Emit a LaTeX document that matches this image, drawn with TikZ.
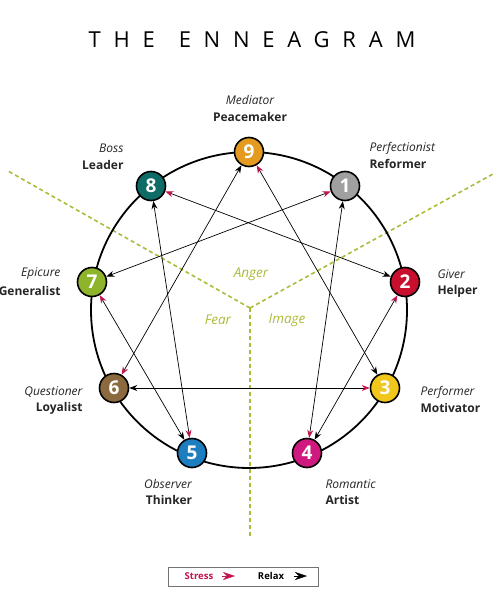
\documentclass[tikz,border=0pt]{standalone}
\usepackage{fontspec}
\setmainfont{Open Sans}
\usetikzlibrary{arrows.meta}
\definecolor{triadcol}{HTML}{AEBB3A}
\definecolor{stresscol}{HTML}{C2164B}
\definecolor{col9}{HTML}{E39A1E}
\definecolor{col1}{HTML}{A0A0A0}
\definecolor{col2}{HTML}{C8102E}
\definecolor{col3}{HTML}{F2C71C}
\definecolor{col4}{HTML}{D0197F}
\definecolor{col5}{HTML}{1C7DBF}
\definecolor{col6}{HTML}{8C6A3F}
\definecolor{col7}{HTML}{8DB42B}
\definecolor{col8}{HTML}{0E6B66}
\tikzset{
  num/.style={circle,draw=black,line width=1.6pt,minimum size=29pt,inner sep=0pt,text=white,font=\bfseries\fontsize{19}{19}\selectfont},
  link/.style={line width=0.7pt,{Stealth[length=8pt,width=6pt,black]}-{Stealth[length=8pt,width=6pt,stresscol]}},
  role/.style={font=\itshape\fontsize{12}{13}\selectfont,text=black!85},
  kind/.style={font=\bfseries\fontsize{12}{13}\selectfont,text=black!85},
  triad/.style={triadcol,line width=1.6pt,dash pattern=on 4pt off 3pt},
  triadtext/.style={font=\itshape\fontsize{13.5}{14}\selectfont,text=triadcol}
}
\begin{document}
\begin{tikzpicture}[x=1pt,y=-1pt]
\useasboundingbox[fill=white] (0,0) rectangle (501,604);
\node (title) at (252,40) {\addfontfeatures{LetterSpace=58}\fontsize{22}{22}\selectfont THE\hspace{24pt}ENNEAGRAM};
\coordinate (hub) at (250,308);
\coordinate (lend) at (8,171);
\coordinate (rend) at (493,174);
\coordinate (dend) at (250,536);
\draw[triad] (hub) -- (lend);
\draw[triad] (hub) -- (rend);
\draw[triad] (hub) -- (dend);
\node[triadtext] (anger) at (251,274) {Anger};
\node[triadtext] (fear) at (218,320) {Fear};
\node[triadtext] (image) at (287,320) {Image};
\draw[line width=1.8pt] (249,310) circle (158);
\node[num,fill=col9] (n9) at (249,152) {9};
\node[num,fill=col1] (n1) at (345,186) {1};
\node[num,fill=col2] (n2) at (405,282) {2};
\node[num,fill=col3] (n3) at (385,388) {3};
\node[num,fill=col4] (n4) at (307,453) {4};
\node[num,fill=col5] (n5) at (192,453) {5};
\node[num,fill=col6] (n6) at (114,388) {6};
\node[num,fill=col7] (n7) at (92,282) {7};
\node[num,fill=col8] (n8) at (151,186) {8};
\draw[link] (n1) -- (n4);
\draw[link] (n4) -- (n2);
\draw[link] (n2) -- (n8);
\draw[link] (n8) -- (n5);
\draw[link] (n5) -- (n7);
\draw[link] (n7) -- (n1);
\draw[link] (n9) -- (n6);
\draw[link] (n6) -- (n3);
\draw[link] (n3) -- (n9);
\node[role] (r9) at (250,100) {Mediator};
\node[kind] (k9) at (250,117) {Peacemaker};
\node[role,anchor=east] (r8) at (127,148) {Boss};
\node[kind,anchor=east] (k8) at (127,165) {Leader};
\node[role,anchor=west] (r1) at (366,148) {Perfectionist};
\node[kind,anchor=west] (k1) at (366,164) {Reformer};
\node[role,anchor=west] (r2) at (434,274) {Giver};
\node[kind,anchor=west] (k2) at (434,291) {Helper};
\node[role,anchor=east] (r7) at (64,274) {Epicure};
\node[kind,anchor=east] (k7) at (64,291) {Generalist};
\node[role,anchor=east] (r6) at (86,392) {Questioner};
\node[kind,anchor=east] (k6) at (86,408) {Loyalist};
\node[role,anchor=west] (r3) at (417,392) {Performer};
\node[kind,anchor=west] (k3) at (417,408) {Motivator};
\node[role] (r5) at (168,484) {Observer};
\node[kind] (k5) at (169,500) {Thinker};
\node[role,anchor=west] (r4) at (322,484) {Romantic};
\node[kind,anchor=west] (k4) at (322,500) {Artist};
\draw[black!55,line width=0.9pt] (168,567) rectangle (318,586);
\node[font=\bfseries\fontsize{9.5}{10}\selectfont,text=stresscol] (stress) at (199,576) {Stress};
\node[font=\bfseries\fontsize{9.5}{10}\selectfont] (relax) at (271,576) {Relax};
\coordinate (s1) at (222,576);
\coordinate (s2) at (235,576);
\coordinate (x1) at (294,576);
\coordinate (x2) at (307,576);
\draw[stresscol,-{Stealth[length=12pt,width=8pt]}] (s1) -- (s2);
\draw[black,-{Stealth[length=12pt,width=8pt]}] (x1) -- (x2);
\end{tikzpicture}
\end{document}
